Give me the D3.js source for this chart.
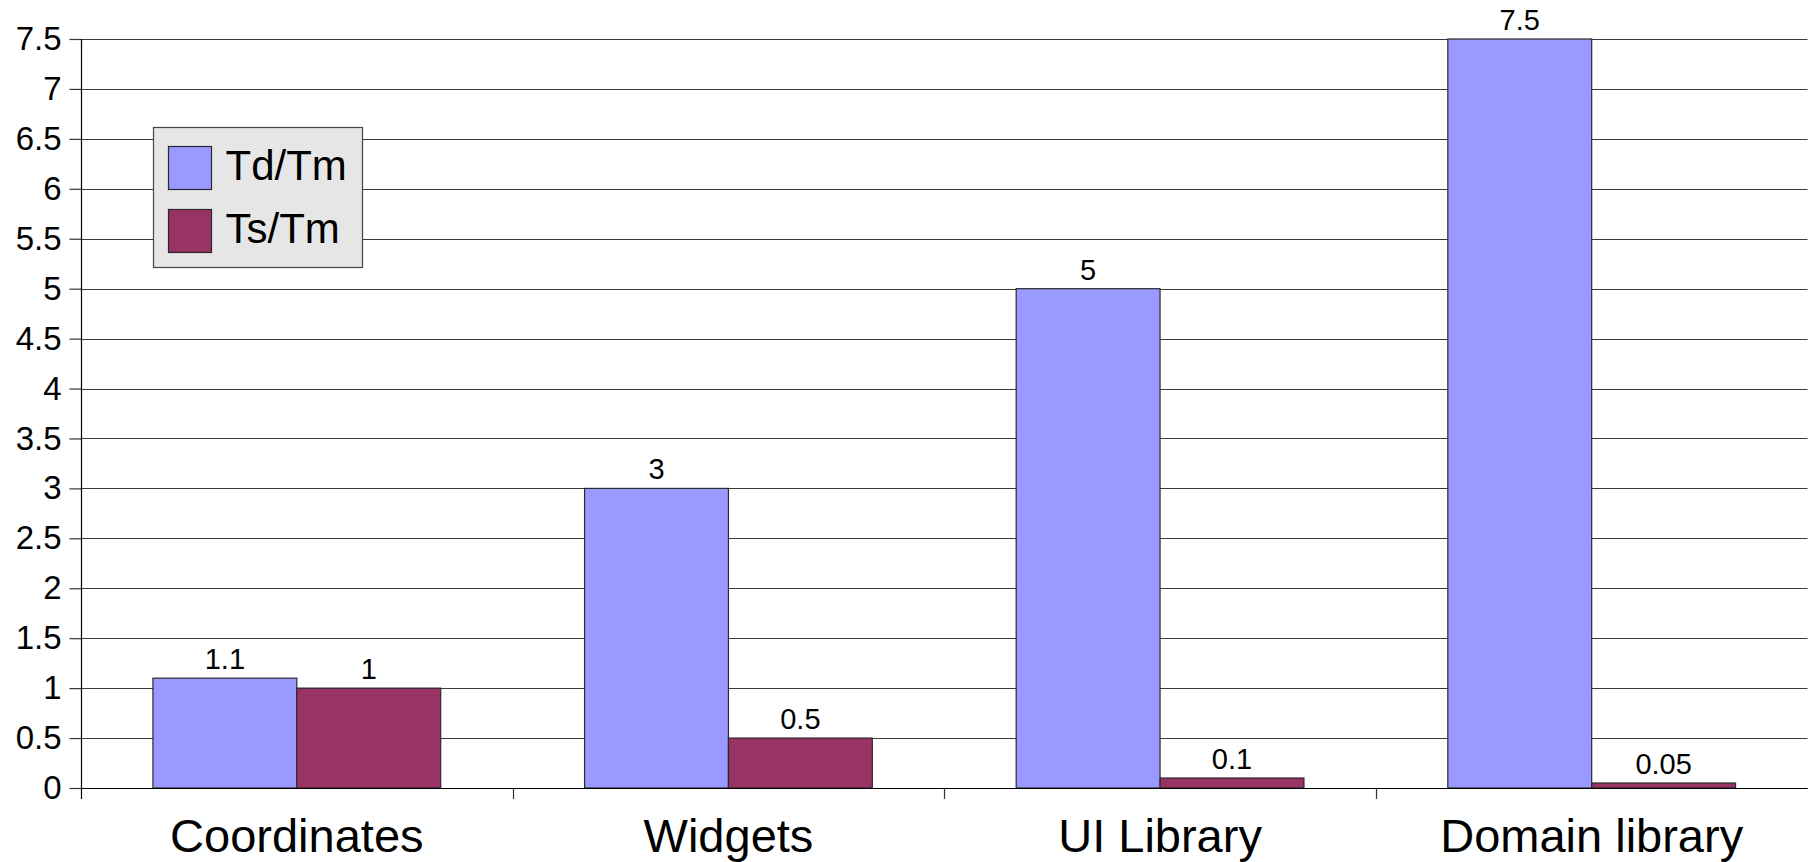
<!DOCTYPE html>
<html>
<head>
<meta charset="utf-8">
<script src="https://cdn.jsdelivr.net/npm/d3@7"></script>
<style>
  html, body { margin: 0; padding: 0; background: #ffffff; }
  svg { display: block; font-family: "Liberation Sans", Arial, sans-serif; }
</style>
</head>
<body>
<svg id="chart" width="1814" height="862"></svg>
<script>
// Ratio comparison per abstraction level
const categories = ["Coordinates", "Widgets", "UI Library", "Domain library"];
const seriesNames = ["Td/Tm", "Ts/Tm"];
const tdTm = [1.1, 3, 5, 7.5];
const tsTm = [1, 0.5, 0.1, 0.05];
const yTicks = [0, 0.5, 1, 1.5, 2, 2.5, 3, 3.5, 4, 4.5, 5, 5.5, 6, 6.5, 7, 7.5];
const colors = ["#9999ff", "#993366"];

const seriesValues = [tdTm, tsTm];

const svg = d3.select("#chart");
const plotLeft = 81, plotRight = 1807.5, plotTop = 39, plotBottom = 788;

const x = d3.scaleBand().domain(categories).range([plotLeft, plotRight]).paddingInner(0).paddingOuter(0);
const y = d3.scaleLinear().domain([0, 7.5]).range([plotBottom, plotTop]);
const inner = d3.scaleBand().domain(seriesNames).range([0, x.bandwidth()]).paddingOuter(0.5).paddingInner(0);

// horizontal grid lines
svg.append("g")
  .selectAll("line")
  .data(yTicks)
  .join("line")
  .attr("x1", plotLeft).attr("x2", plotRight)
  .attr("y1", d => Math.round(y(d)) + 0.5).attr("y2", d => Math.round(y(d)) + 0.5)
  .attr("stroke", "#3a3a3a").attr("stroke-width", 1.2);

// y axis with tick labels
const yAxis = d3.axisLeft(y).tickValues(yTicks).tickSize(12).tickPadding(8)
  .tickFormat(d => String(d));
const yg = svg.append("g").attr("transform", `translate(${plotLeft + 0.5},0)`).call(yAxis);
yg.select(".domain").remove();
yg.selectAll(".tick line").attr("stroke", "#333").attr("stroke-width", 1.2);
yg.selectAll(".tick text").attr("font-size", 33).attr("fill", "#000")
  .attr("font-family", "Liberation Sans, Arial, sans-serif");
svg.append("line").attr("x1", plotLeft + 0.5).attr("x2", plotLeft + 0.5)
  .attr("y1", plotTop).attr("y2", plotBottom + 11).attr("stroke", "#000").attr("stroke-width", 1.2);

// bars
const groups = svg.append("g").selectAll("g")
  .data(categories)
  .join("g")
  .attr("transform", d => `translate(${x(d)},0)`);

groups.selectAll("rect")
  .data((c, i) => seriesNames.map((s, k) => ({ s, k, v: seriesValues[k][i] })))
  .join("rect")
  .attr("x", d => inner(d.s))
  .attr("width", inner.bandwidth())
  .attr("y", d => y(d.v))
  .attr("height", d => plotBottom - y(d.v))
  .attr("fill", d => colors[d.k])
  .attr("stroke", "#2a2a2a").attr("stroke-width", 1.2);

groups.selectAll("text")
  .data((c, i) => seriesNames.map((s, k) => ({ s, k, v: seriesValues[k][i] })))
  .join("text")
  .attr("x", d => inner(d.s) + inner.bandwidth() / 2)
  .attr("y", d => y(d.v) - 9)
  .attr("text-anchor", "middle")
  .attr("font-size", 29)
  .attr("fill", "#000")
  .text(d => String(d.v));

// x axis baseline, category separators and labels
svg.append("line").attr("x1", plotLeft).attr("x2", plotRight)
  .attr("y1", plotBottom + 0.5).attr("y2", plotBottom + 0.5).attr("stroke", "#000").attr("stroke-width", 1.2);

svg.append("g").selectAll("line")
  .data(categories.slice(1))
  .join("line")
  .attr("x1", d => Math.round(x(d)) + 0.5).attr("x2", d => Math.round(x(d)) + 0.5)
  .attr("y1", plotBottom).attr("y2", plotBottom + 11)
  .attr("stroke", "#333").attr("stroke-width", 1.2);

svg.append("g").selectAll("text")
  .data(categories)
  .join("text")
  .attr("x", d => x(d) + x.bandwidth() / 2)
  .attr("y", 852)
  .attr("text-anchor", "middle")
  .attr("font-size", 47)
  .attr("fill", "#000")
  .text(d => d);

// legend
const legend = svg.append("g");
legend.append("rect")
  .attr("x", 153.5).attr("y", 127.5).attr("width", 209).attr("height", 140)
  .attr("fill", "#e6e6e6").attr("stroke", "#444").attr("stroke-width", 1.2);
const items = legend.selectAll("g.item")
  .data(seriesNames)
  .join("g").attr("class", "item")
  .attr("transform", (d, i) => `translate(168.5,${146.5 + i * 63})`);
items.append("rect")
  .attr("width", 43).attr("height", 43)
  .attr("fill", (d, i) => colors[i])
  .attr("stroke", "#2a2a2a").attr("stroke-width", 1.2);
items.append("text")
  .attr("x", 57).attr("y", 33.5)
  .attr("font-size", 42)
  .attr("fill", "#000")
  .text(d => d);
</script>
</body>
</html>
